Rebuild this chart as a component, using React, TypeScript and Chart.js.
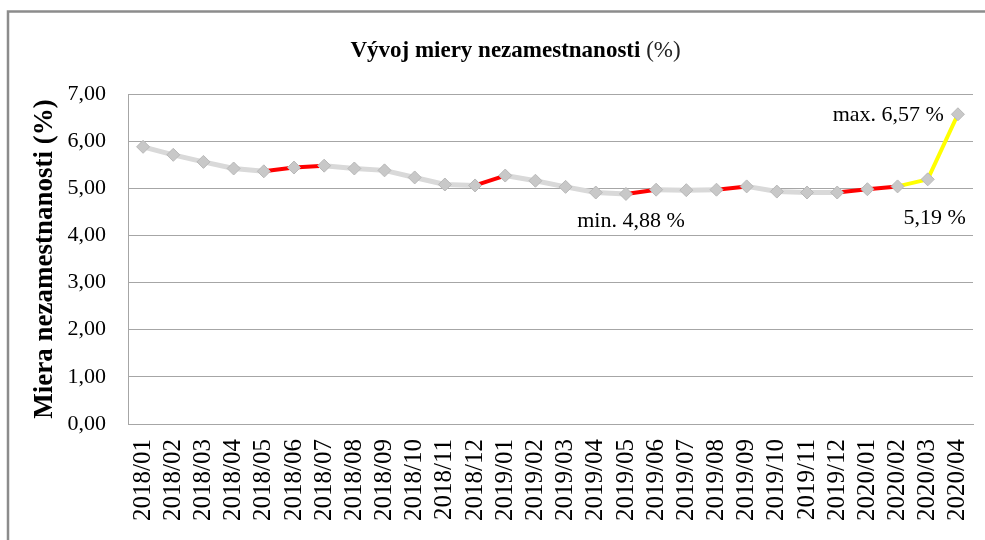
import React, { useEffect, useRef } from "react";
import { Chart, registerables } from "chart.js";

Chart.register(...registerables);

const categories = [
  "2018/01", "2018/02", "2018/03", "2018/04", "2018/05", "2018/06", "2018/07",
  "2018/08", "2018/09", "2018/10", "2018/11", "2018/12", "2019/01", "2019/02",
  "2019/03", "2019/04", "2019/05", "2019/06", "2019/07", "2019/08", "2019/09",
  "2019/10", "2019/11", "2019/12", "2020/01", "2020/02", "2020/03", "2020/04",
];

const unemploymentRate = [
  5.88, 5.71, 5.56, 5.42, 5.36, 5.44, 5.48, 5.42, 5.38, 5.23, 5.08, 5.06,
  5.27, 5.16, 5.03, 4.91, 4.88, 4.97, 4.96, 4.97, 5.04, 4.93, 4.91, 4.91,
  4.98, 5.04, 5.19, 6.57,
];

// segments (by start index) drawn in red / yellow
const redSegments = [4, 5, 11, 16, 19, 23, 24];
const yellowSegments = [25, 26];

const yTicks = [0, 1, 2, 3, 4, 5, 6, 7];

const minIndex = 16;
const maxIndex = 27;
const marchIndex = 26;

const chartTitle = "Vývoj miery nezamestnanosti";
const chartTitleSuffix = "(%)";
const yTitle = "Miera nezamestnanosti (%)";

const fmt = (v: number) => v.toFixed(2).replace(".", ",");

const SERIF = "'Liberation Serif', 'Times New Roman', serif";

export default function App() {
  const ref = useRef<HTMLCanvasElement | null>(null);

  useEffect(() => {
    const canvas = ref.current;
    if (!canvas) return;

    const decorPlugin = {
      id: "decor",
      afterDraw(chart: any) {
        const ctx = chart.ctx as CanvasRenderingContext2D;
        const x = chart.scales.x;
        const y = chart.scales.y;
        ctx.save();
        // frame
        ctx.strokeStyle = "#8c8c8c";
        ctx.lineWidth = 2.5;
        ctx.beginPath();
        ctx.moveTo(8, 545);
        ctx.lineTo(8, 11.5);
        ctx.lineTo(990, 11.5);
        ctx.stroke();

        // title
        ctx.fillStyle = "#000";
        ctx.textBaseline = "alphabetic";
        ctx.textAlign = "left";
        ctx.font = `bold 23px ${SERIF}`;
        const w1 = ctx.measureText(chartTitle + " ").width;
        ctx.font = `23px ${SERIF}`;
        const w2 = ctx.measureText(chartTitleSuffix).width;
        const start = 515.5 - (w1 + w2) / 2;
        ctx.font = `bold 23px ${SERIF}`;
        ctx.fillText(chartTitle + " ", start, 57);
        ctx.font = `23px ${SERIF}`;
        ctx.fillStyle = "#222";
        ctx.fillText(chartTitleSuffix, start + w1, 57);

        // annotations
        ctx.fillStyle = "#000";
        ctx.font = `22px ${SERIF}`;
        ctx.textBaseline = "middle";
        const maxV = unemploymentRate[maxIndex];
        ctx.textAlign = "right";
        ctx.fillText(`max. ${fmt(maxV)} %`, x.getPixelForValue(maxIndex) - 14, y.getPixelForValue(maxV) + 1);
        const mV = unemploymentRate[marchIndex];
        ctx.textAlign = "center";
        ctx.fillText(`${fmt(mV)} %`, x.getPixelForValue(marchIndex) + 7, y.getPixelForValue(mV) + 39);
        const minV = unemploymentRate[minIndex];
        ctx.fillText(`min. ${fmt(minV)} %`, x.getPixelForValue(minIndex) + 5, y.getPixelForValue(minV) + 27);
        ctx.restore();
      },
    };

    const chart = new Chart(canvas, {
      type: "line",
      data: {
        labels: categories,
        datasets: [
          {
            data: unemploymentRate,
            borderColor: "#d9d9d9",
            borderWidth: 5,
            pointStyle: "rectRot",
            pointRadius: 6.5,
            pointBackgroundColor: "#c8c8c8",
            pointBorderColor: "#b8b8b8",
            pointBorderWidth: 1,
            tension: 0,
            segment: {
              borderColor: (c: any) =>
                redSegments.includes(c.p0DataIndex)
                  ? "#ff0000"
                  : yellowSegments.includes(c.p0DataIndex)
                  ? "#ffff00"
                  : "#d9d9d9",
              borderWidth: (c: any) =>
                redSegments.includes(c.p0DataIndex) || yellowSegments.includes(c.p0DataIndex) ? 4 : 5,
            },
          },
        ],
      },
      options: {
        animation: false,
        responsive: false,
        maintainAspectRatio: false,
        layout: { padding: { top: 94, right: 12, left: 0, bottom: 0 } },
        plugins: {
          legend: { display: false },
          tooltip: { enabled: false },
          title: { display: false },
        },
        scales: {
          x: {
            offset: true,
            grid: { display: false, drawTicks: false, offset: true },
            border: { color: "#a6a6a6", width: 1 },
            ticks: {
              color: "#000",
              font: { family: SERIF, size: 25 },
              minRotation: 90,
              maxRotation: 90,
              padding: 15,
              autoSkip: false,
            },
            afterFit: (s: any) => {
              s.height = 116;
              s.paddingLeft = 0;
              s.paddingRight = 0;
            },
          },
          y: {
            min: 0,
            max: 7,
            afterBuildTicks: (s: any) => {
              s.ticks = yTicks.map((v) => ({ value: v }));
            },
            grid: { color: "#a6a6a6", lineWidth: 1, drawTicks: false },
            border: { color: "#a6a6a6", width: 1 },
            ticks: {
              color: "#000",
              font: { family: SERIF, size: 22 },
              padding: 22,
              callback: (v: any) => fmt(Number(v)),
            },
            title: {
              display: true,
              text: yTitle,
              color: "#000",
              font: { family: SERIF, size: 27, weight: "bold" },
              padding: { top: 29, bottom: 0 },
            },
            afterFit: (s: any) => {
              s.width = 128;
            },
          },
        },
      },
      plugins: [decorPlugin],
    });

    return () => chart.destroy();
  }, []);

  return (
    <div style={{ position: "fixed", left: 0, top: 0, width: 985, height: 540, background: "#fff" }}>
      <canvas ref={ref} width={985} height={540} style={{ width: 985, height: 540, display: "block" }} />
    </div>
  );
}
